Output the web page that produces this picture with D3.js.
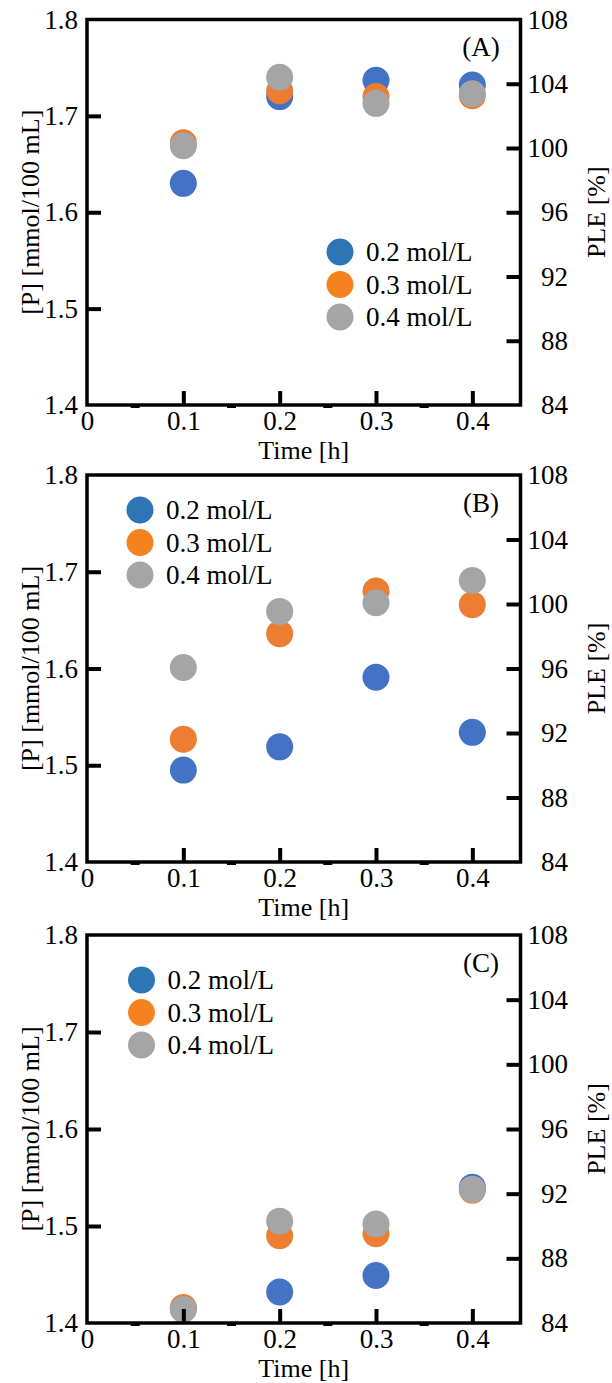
<!DOCTYPE html>
<html><head><meta charset="utf-8">
<script src="https://cdn.jsdelivr.net/npm/d3@7"></script>
<style>
html,body{margin:0;padding:0;background:#fff;}
svg text{font-family:"Liberation Serif","Times New Roman",serif;fill:#000;}
</style></head>
<body><svg id="c" width="612" height="1383"></svg>
<script>
// ---- data ----
const times = [0.1, 0.2, 0.3, 0.4];
const seriesNames = ["0.2 mol/L", "0.3 mol/L", "0.4 mol/L"];
const panelLabels = ["(A)", "(B)", "(C)"];
const xTickValues = [0, 0.1, 0.2, 0.3, 0.4];
const leftTickValues = [1.4, 1.5, 1.6, 1.7, 1.8];
const rightTickValues = [84, 88, 92, 96, 100, 104, 108];
// panel A
const A_02 = [1.630, 1.720, 1.737, 1.732];
const A_03 = [1.672, 1.726, 1.720, 1.721];
const A_04 = [1.669, 1.740, 1.713, 1.723];
// panel B
const B_02 = [1.495, 1.519, 1.591, 1.534];
const B_03 = [1.527, 1.636, 1.680, 1.666];
const B_04 = [1.601, 1.659, 1.668, 1.691];
// panel C
const C_02 = [1.415, 1.432, 1.449, 1.540];
const C_03 = [1.416, 1.490, 1.492, 1.537];
const C_04 = [1.414, 1.505, 1.502, 1.538];

const panelData = [[A_02, A_03, A_04], [B_02, B_03, B_04], [C_02, C_03, C_04]];
const dotColors = ["#4472C4", "#ED7D31", "#A5A5A5"];
const legendColors = ["#2E75B6", "#F4831F", "#A5A5A5"];

// ---- layout ----
const svg = d3.select("#c");
const X0 = 87, X1 = 520.5;
const panels = [
  {top: 19.5, bottom: 405, legend: {cx: 340, cy: 252}},
  {top: 475, bottom: 862, legend: {cx: 140, cy: 510}},
  {top: 935, bottom: 1323, legend: {cx: 141.5, cy: 980}}
];
const FS = 27;

panels.forEach((p, i) => {
  const g = svg.append("g");
  const x = d3.scaleLinear().domain([0, 0.45]).range([X0, X1]);
  const y = d3.scaleLinear().domain([1.4, 1.8]).range([p.bottom, p.top]);
  const y2 = d3.scaleLinear().domain([84, 108]).range([p.bottom, p.top]);

  // points
  panelData[i].forEach((vals, s) => {
    g.append("g").selectAll("circle").data(vals).join("circle")
      .attr("cx", (d, k) => x(times[k]))
      .attr("cy", d => y(d))
      .attr("r", 13.5)
      .attr("fill", dotColors[s]);
  });

  // frame
  g.append("rect").attr("x", X0).attr("y", p.top)
    .attr("width", X1 - X0).attr("height", p.bottom - p.top)
    .attr("fill", "none").attr("stroke", "#000").attr("stroke-width", 3.5);

  // axes
  const ax = g.append("g").attr("transform", `translate(0,${p.bottom})`)
    .call(d3.axisBottom(x).tickValues(xTickValues).tickSize(-14).tickPadding(5.5)
      .tickFormat(d => d === 0 ? "0" : d3.format(".1f")(d)));
  const ay = g.append("g").attr("transform", `translate(${X0},0)`)
    .call(d3.axisLeft(y).tickValues(leftTickValues).tickSize(-14).tickPadding(9)
      .tickFormat(d3.format(".1f")));
  const ay2 = g.append("g").attr("transform", `translate(${X1},0)`)
    .call(d3.axisRight(y2).tickValues(rightTickValues).tickSize(-14).tickPadding(9)
      .tickFormat(d3.format("d")));
  [ax, ay, ay2].forEach(a => {
    a.select(".domain").remove();
    a.selectAll(".tick line").attr("stroke", "#000").attr("stroke-width", 4);
    a.selectAll("text").style("font-size", FS + "px").attr("fill", "#000");
  });
  ax.selectAll(".tick").filter(d => d === 0).select("line").remove();
  ay.selectAll(".tick").filter(d => d === 1.4 || d === 1.8).select("line").remove();
  ay2.selectAll(".tick").filter(d => d === 84 || d === 108).select("line").remove();
  ay2.selectAll("text").attr("text-anchor", "end").attr("x", 47.5);

  // minor marks on bottom axis
  g.append("g").selectAll("rect").data([0.05, 0.15, 0.25, 0.35]).join("rect")
    .attr("x", d => x(d) - 4.5).attr("y", p.bottom).attr("width", 9).attr("height", 3)
    .attr("fill", "#000");

  // titles
  g.append("text").attr("x", (X0 + X1) / 2).attr("y", p.bottom + 54)
    .attr("text-anchor", "middle").style("font-size", "26px").text("Time [h]");
  g.append("text").attr("transform", `translate(39,${(p.top + p.bottom) / 2}) rotate(-90)`)
    .attr("text-anchor", "middle").style("font-size", "26px").text("[P] [mmol/100 mL]");
  g.append("text").attr("transform", `translate(605,${(p.top + p.bottom) / 2}) rotate(-90)`)
    .attr("text-anchor", "middle").style("font-size", "26px").text("PLE [%]");
  g.append("text").attr("x", 481).attr("y", p.top + 36.5)
    .attr("text-anchor", "middle").style("font-size", FS + "px").text(panelLabels[i]);

  // legend
  const lg = g.append("g").attr("transform", `translate(${p.legend.cx},${p.legend.cy})`);
  seriesNames.forEach((name, s) => {
    lg.append("circle").attr("cx", 0).attr("cy", s * 32.5).attr("r", 13.5).attr("fill", legendColors[s]);
    lg.append("text").attr("x", 26).attr("y", s * 32.5 + 9).style("font-size", FS + "px").text(name);
  });
});
</script></body></html>
